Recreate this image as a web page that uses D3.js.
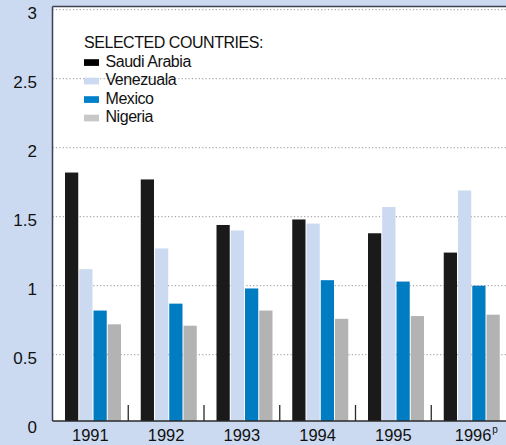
<!DOCTYPE html>
<html>
<head>
<meta charset="utf-8">
<script src="https://cdn.jsdelivr.net/npm/d3@7/dist/d3.min.js"></script>
<style>
html,body{margin:0;padding:0;background:#cbdaf0;}
svg{display:block;font-family:"Liberation Sans",Arial,Helvetica,sans-serif;}
</style>
</head>
<body>
<svg id="chart" width="506" height="445"></svg>
<script>
const years = ["1991","1992","1993","1994","1995","1996"];
const yearSup = ["","","","","","p"];
const countries = ["Saudi Arabia","Venezuala","Mexico","Nigeria"];
const saudiArabia = [1.82,1.77,1.44,1.48,1.38,1.24];
const venezuela   = [1.12,1.27,1.40,1.45,1.57,1.69];
const mexico      = [0.82,0.87,0.98,1.04,1.03,1.00];
const nigeria     = [0.72,0.71,0.82,0.76,0.78,0.79];
const yTicks = [0,0.5,1,1.5,2,2.5,3];
const yTickLabels = ["0","0.5","1","1.5","2","2.5","3"];
const legendTitle = "SELECTED COUNTRIES:";

const series = [saudiArabia, venezuela, mexico, nigeria];
const barColors = ["#1a1a1a","#cbdaf0","#007cc2","#b3b3b3"];
const swatchColors = ["#000000","#cbdaf0","#0080c8","#c8c8c8"];

const svg = d3.select("#chart");
const plotL = 52.5, plotR = 507, plotT = 6.5, plotB = 421;

const x = d3.scaleBand().domain(years).range([plotL, plotR]).padding(0);
const y = d3.scaleLinear().domain([0,3]).range([423.7, 9.7]);
const inner = d3.scaleBand().domain(d3.range(4)).range([12.5, 12.5 + 56]).paddingInner(1/14);

svg.append("rect").attr("x", plotL).attr("y", plotT)
  .attr("width", plotR - plotL).attr("height", plotB - plotT).attr("fill", "#ffffff");

svg.append("defs").append("clipPath").attr("id","clip")
  .append("rect").attr("x", plotL).attr("y", plotT).attr("width", plotR-plotL).attr("height", plotB-plotT);

svg.append("g").selectAll("line").data(yTicks.filter(t => t > 0))
  .join("line")
  .attr("x1", plotL).attr("x2", plotR)
  .attr("y1", d => y(d)).attr("y2", d => y(d))
  .attr("stroke", "#a8a8a8").attr("stroke-width", 1.2)
  .attr("stroke-dasharray", "1.2,2.2");

const gBars = svg.append("g").attr("clip-path","url(#clip)");
years.forEach((yr, i) => {
  series.forEach((s, k) => {
    gBars.append("rect")
      .attr("x", x(yr) + inner(k))
      .attr("width", inner.bandwidth())
      .attr("y", y(s[i]))
      .attr("height", y(0) - y(s[i]))
      .attr("fill", barColors[k]);
  });
});

svg.append("g").selectAll("line").data(years.slice(1))
  .join("line")
  .attr("x1", d => x(d)).attr("x2", d => x(d))
  .attr("y1", 405).attr("y2", plotB)
  .attr("stroke", "#2a2a2a").attr("stroke-width", 1.3);

svg.append("line").attr("x1", plotL).attr("x2", plotR).attr("y1", plotT).attr("y2", plotT)
  .attr("stroke", "#3c4250").attr("stroke-width", 1.5);
svg.append("line").attr("x1", plotL).attr("x2", plotL).attr("y1", plotT).attr("y2", plotB)
  .attr("stroke", "#3c4250").attr("stroke-width", 1.5);
svg.append("line").attr("x1", plotL).attr("x2", plotR).attr("y1", plotB).attr("y2", plotB)
  .attr("stroke", "#2a2a2a").attr("stroke-width", 1.5);

svg.append("g").selectAll("text").data(yTicks)
  .join("text")
  .attr("x", 37).attr("y", d => y(d) + 3.5)
  .attr("text-anchor", "end").attr("dominant-baseline", "central")
  .attr("font-size", 17).attr("fill", "#111")
  .text((d, i) => yTickLabels[i]);

const xl = svg.append("g");
years.forEach((yr, i) => {
  const cx = x(yr) + x.bandwidth() / 2 + (yearSup[i] ? 4 : 0);
  xl.append("text").attr("x", cx).attr("y", 441)
    .attr("text-anchor", "middle").attr("font-size", 16.5).attr("fill", "#111")
    .text(yr);
  if (yearSup[i]) {
    xl.append("text").attr("x", cx + 19).attr("y", 433)
      .attr("font-size", 10).attr("fill", "#111").text(yearSup[i]);
  }
});

const lg = svg.append("g").attr("font-size", 16).attr("letter-spacing", "-0.45px").attr("fill", "#111");
lg.append("text").attr("x", 84).attr("y", 48.3).text(legendTitle);
countries.forEach((c, k) => {
  const by = 66.7 + k * 18.5;
  lg.append("rect").attr("x", 84).attr("y", by - 7.5).attr("width", 15).attr("height", 6.7)
    .attr("fill", swatchColors[k]);
  lg.append("text").attr("x", 105.5).attr("y", by).text(c);
});
</script>
</body>
</html>
